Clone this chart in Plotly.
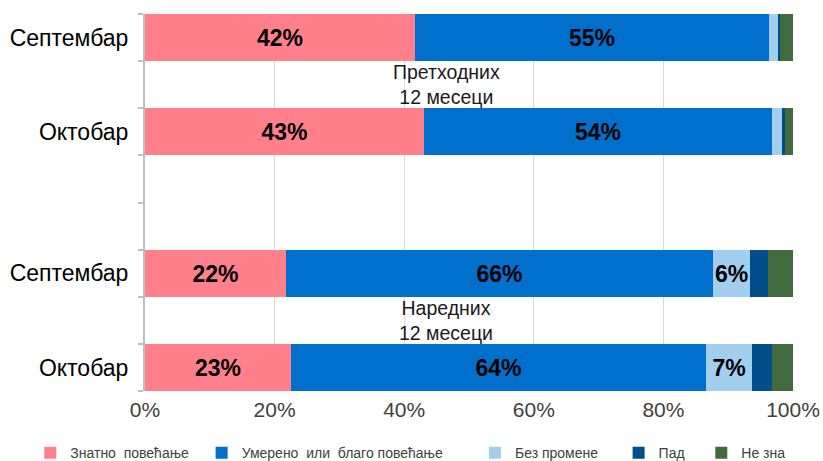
import plotly.graph_objects as go

# ---- data (top row first) ----
months = ["Септембар", "Октобар", "Септембар", "Октобар"]
periods = ["Претходних<br>12 месеци", "Наредних<br>12 месеци"]
series_names = ["Знатно  повећање", "Умерено  или  благо повећање", "Без промене", "Пад", "Не зна"]
znatno = [41.6, 43.1, 21.8, 22.6]
umereno = [54.7, 53.6, 65.9, 64.0]
bez_promene = [1.5, 1.7, 5.7, 7.05]
pad = [0.2, 0.3, 2.7, 3.1]
ne_zna = [2.0, 1.3, 3.9, 3.25]
x_ticks = [0, 20, 40, 60, 80, 100]
x_tick_labels = ["0%", "20%", "40%", "60%", "80%", "100%"]

# ---- layout helpers ----
row_slots = [7, 5, 2, 0]          # slot index (bottom = 0) for each row
period_slots = [6, 1]
slot_edges = [i - 0.5 for i in range(9)]
colors = ["#FF7F8A", "#0070CC", "#A3CFEE", "#004F8C", "#416B3D"]
legend_pad = [2, 7, 4, 3, 0]       # extra spacing after each legend entry
label_min = 5
FONT = "Liberation Sans, Arial, sans-serif"

fig = go.Figure()
for name, vals, col, pad_n in zip(series_names,
                                  [znatno, umereno, bez_promene, pad, ne_zna],
                                  colors, legend_pad):
    txt = [f"{v:.0f}%" if v >= label_min else "" for v in vals]
    fig.add_trace(go.Bar(
        y=row_slots, x=vals, orientation="h", name=name + "\u00a0" * pad_n,
        marker=dict(color=col, line=dict(width=0)),
        width=1, text=txt, textposition="inside", insidetextanchor="middle",
        textangle=0, constraintext="none",
        textfont=dict(family=FONT, size=23, color="black", weight="bold"),
        hovertemplate=name + ": %{x}%<extra></extra>",
    ))

for txt, s in zip(periods, period_slots):
    fig.add_annotation(x=46.5, y=s, xref="x", yref="y", text=txt, showarrow=False,
                       font=dict(family=FONT, size=19.5, color="#1a1a1a"),
                       align="center")

fig.update_layout(
    width=823, height=461,
    margin=dict(l=145, r=30, t=14, b=70, autoexpand=False),
    barmode="stack", bargap=0,
    plot_bgcolor="white", paper_bgcolor="white",
    font=dict(family=FONT, color="#000000"),
    xaxis=dict(range=[0, 100], tickvals=x_ticks, ticktext=x_tick_labels,
               showgrid=True, gridcolor="#D9D9D9", gridwidth=1,
               zeroline=False, showline=False, ticks="",
               ticklabelstandoff=4,
               tickfont=dict(family=FONT, size=21, color="#404040")),
    yaxis=dict(range=[-0.5, 7.5], tickvals=row_slots, ticktext=months,
               showgrid=False, zeroline=False, showline=True,
               linecolor="#BFBFBF", linewidth=2, ticks="",
               ticklabelstandoff=10,
               tickfont=dict(family=FONT, size=23, color="#000000"),
               minor=dict(tickmode="array", tickvals=slot_edges, ticks="outside",
                          ticklen=5, tickwidth=2, tickcolor="#BFBFBF",
                          showgrid=False)),
    showlegend=True,
    legend=dict(orientation="h", xref="paper", x=-0.177, xanchor="left",
                y=-0.165, yanchor="middle", traceorder="normal",
                font=dict(family=FONT, size=14, color="#404040"),
                itemwidth=30),
)

fig.write_html("out.html", config={"displayModeBar": False},
               post_script="document.body.style.margin='0px';")
